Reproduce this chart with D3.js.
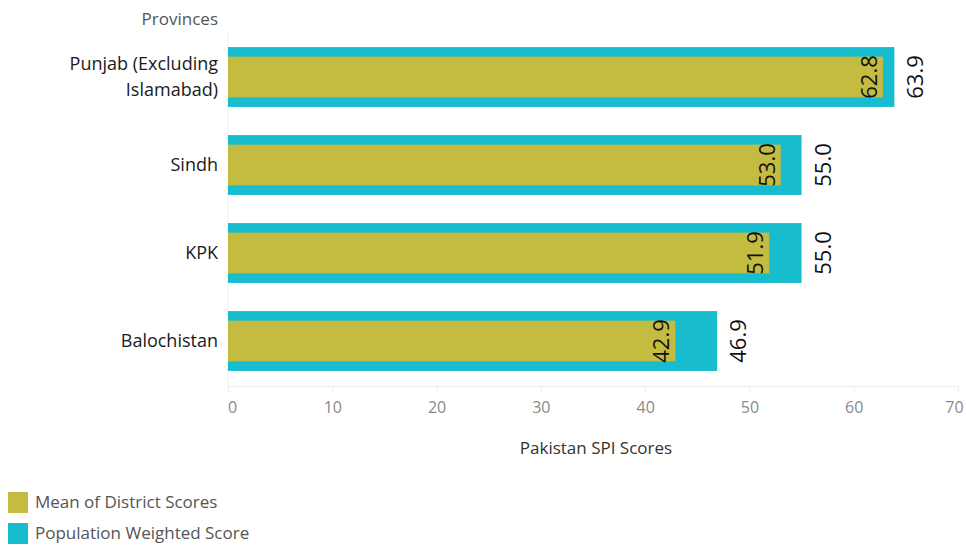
<!DOCTYPE html>
<html>
<head>
<meta charset="utf-8">
<script src="https://cdn.jsdelivr.net/npm/d3@7"></script>
<style>
  body { margin: 0; background: #fff; }
  text { font-family: 'Open Sans', Lato, sans-serif; }
</style>
</head>
<body>
<div id="chart"></div>
<script>
const provinces = ['Punjab (Excluding Islamabad)', 'Sindh', 'KPK', 'Balochistan']
const provinceLines = [['Punjab (Excluding', 'Islamabad)'], ['Sindh'], ['KPK'], ['Balochistan']]
const meanScores = [62.8, 53.0, 51.9, 42.9]
const weightedScores = [63.9, 55.0, 55.0, 46.9]
const xTicks = [0, 10, 20, 30, 40, 50, 60, 70]
const legendLabels = ['Mean of District Scores', 'Population Weighted Score']

const colors = { mean: '#c3bc41', weighted: '#17bdcf' }

const margin = { top: 33, left: 228, right: 8, bottom: 161 }
const width = 966 - margin.left - margin.right
const height = 547 - margin.top - margin.bottom

const svg = d3
  .select('#chart')
  .append('svg')
  .attr('width', 966)
  .attr('height', 547)

const g = svg
  .append('g')
  .attr('transform', 'translate(' + margin.left + ',' + margin.top + ')')

const xPositionScale = d3.scaleLinear().domain([0, 70]).range([0, 730])

const yPositionScale = d3
  .scaleBand()
  .domain(provinces)
  .range([0, 352])
  .paddingInner(0.32)
  .paddingOuter(0.16)

const data = provinces.map((p, i) => ({
  province: p,
  lines: provinceLines[i],
  mean: meanScores[i],
  weighted: weightedScores[i]
}))

// left border line
g.append('line')
  .attr('x1', 0)
  .attr('x2', 0)
  .attr('y1', 0)
  .attr('y2', height)
  .attr('stroke', '#ececec')

// x axis
const xAxis = d3
  .axisBottom(xPositionScale)
  .tickValues(xTicks)
  .tickSize(6)
  .tickPadding(10)
g.append('g')
  .attr('class', 'axis x-axis')
  .attr('transform', 'translate(0,' + height + ')')
  .call(xAxis)
g.selectAll('.x-axis .domain').attr('stroke', '#ececec')
g.selectAll('.x-axis line').attr('stroke', '#ececec')
g.selectAll('.x-axis text')
  .attr('fill', '#8a8a8a')
  .attr('font-size', 16)
  .attr('font-family', "'Open Sans', sans-serif")
  .attr('dx', d => (d === 0 ? 4 : d === 70 ? -4 : 0))

// outer bars: population weighted
const bandH = yPositionScale.bandwidth()
g.selectAll('.weighted-bar')
  .data(data)
  .enter()
  .append('rect')
  .attr('class', 'weighted-bar')
  .attr('x', 0)
  .attr('y', d => yPositionScale(d.province))
  .attr('width', d => xPositionScale(d.weighted))
  .attr('height', bandH)
  .attr('fill', colors.weighted)

// inner bars: mean of district scores
const innerInset = bandH * 0.16
g.selectAll('.mean-bar')
  .data(data)
  .enter()
  .append('rect')
  .attr('class', 'mean-bar')
  .attr('x', 0)
  .attr('y', d => yPositionScale(d.province) + innerInset)
  .attr('width', d => xPositionScale(d.mean))
  .attr('height', bandH - innerInset * 2)
  .attr('fill', colors.mean)

// value labels (rotated)
g.selectAll('.mean-label')
  .data(data)
  .enter()
  .append('text')
  .attr('class', 'mean-label')
  .attr('transform', d =>
    'translate(' + (xPositionScale(d.mean) - 6) + ',' +
    (yPositionScale(d.province) + bandH / 2) + ') rotate(-90)')
  .attr('text-anchor', 'middle')
  .attr('font-family', "'Liberation Sans', Arial, sans-serif")
  .attr('font-size', 22)
  .attr('fill', '#111')
  .text(d => d.mean.toFixed(1))

g.selectAll('.weighted-label')
  .data(data)
  .enter()
  .append('text')
  .attr('class', 'weighted-label')
  .attr('transform', d =>
    'translate(' + (xPositionScale(d.weighted) + 29) + ',' +
    (yPositionScale(d.province) + bandH / 2) + ') rotate(-90)')
  .attr('text-anchor', 'middle')
  .attr('font-family', "'Liberation Sans', Arial, sans-serif")
  .attr('font-size', 22)
  .attr('fill', '#111')
  .text(d => d.weighted.toFixed(1))

// province labels
const rowLabels = g
  .selectAll('.province-name')
  .data(data)
  .enter()
  .append('text')
  .attr('class', 'province-name')
  .attr('text-anchor', 'end')
  .attr('font-size', 18)
  .attr('font-weight', 500)
  .attr('fill', '#1a1a1a')
  .attr('x', -10)
  .attr('y', d => yPositionScale(d.province) + bandH / 2)

rowLabels
  .selectAll('tspan')
  .data(d => d.lines.map((l, i) => ({ l, i, n: d.lines.length })))
  .enter()
  .append('tspan')
  .attr('x', -10)
  .attr('dy', d => (d.i === 0 ? (-(d.n - 1) * 13 + 6) + 'px' : '26px'))
  .text(d => d.l)

// headers
g.append('text')
  .attr('x', -10)
  .attr('y', -8)
  .attr('text-anchor', 'end')
  .attr('font-size', 17)
  .attr('fill', '#555')
  .text('Provinces')

g.append('text')
  .attr('x', 368)
  .attr('y', height + 68)
  .attr('text-anchor', 'middle')
  .attr('font-size', 17)
  .attr('font-weight', 500)
  .attr('fill', '#333')
  .text('Pakistan SPI Scores')

// legend
const legend = svg
  .selectAll('.legend')
  .data(legendLabels)
  .enter()
  .append('g')
  .attr('class', 'legend')
  .attr('transform', (d, i) => 'translate(8,' + (492 + i * 31) + ')')

legend
  .append('rect')
  .attr('width', 20)
  .attr('height', 21)
  .attr('fill', (d, i) => (i === 0 ? colors.mean : colors.weighted))

legend
  .append('text')
  .attr('x', 27)
  .attr('y', 16)
  .attr('font-size', 17)
  .attr('fill', '#555')
  .text(d => d)
</script>
</body>
</html>
